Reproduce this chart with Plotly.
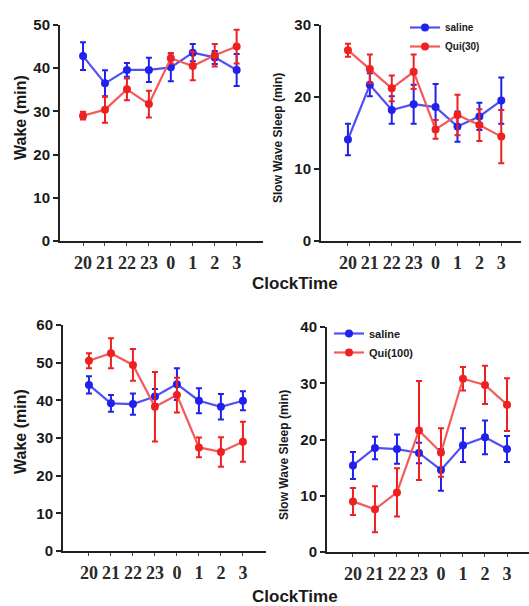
import plotly.graph_objects as go

# ---------------- data ----------------
clock_labels = ["20", "21", "22", "23", "0", "1", "2", "3"]
xpos = list(range(len(clock_labels)))

# top-left: Wake (min), saline vs Qui(30)
wake1_saline = [42.8, 36.5, 39.6, 39.6, 40.2, 43.6, 42.5, 39.6]
wake1_saline_err = [3.2, 3.0, 1.6, 2.8, 3.2, 2.0, 1.5, 3.7]
wake1_qui = [29.0, 30.4, 35.1, 31.7, 42.3, 40.5, 43.0, 45.0]
wake1_qui_err = [0.9, 3.0, 2.5, 3.1, 1.2, 3.3, 2.6, 3.9]

# top-right: Slow Wave Sleep (min)
sws1_saline = [14.1, 21.7, 18.2, 19.0, 18.6, 15.9, 17.3, 19.5]
sws1_saline_err = [2.2, 1.6, 1.9, 2.7, 3.2, 2.1, 1.9, 3.2]
sws1_qui = [26.5, 23.9, 21.2, 23.5, 15.5, 17.5, 16.1, 14.5]
sws1_qui_err = [0.9, 2.0, 1.8, 2.4, 1.3, 2.8, 2.2, 3.7]

# bottom-left: Wake (min), saline vs Qui(100)
wake2_saline = [44.1, 39.2, 39.0, 41.0, 44.3, 39.9, 38.3, 39.9]
wake2_saline_err = [2.3, 2.2, 2.8, 2.0, 4.2, 3.3, 3.4, 2.5]
wake2_qui = [50.5, 52.5, 49.4, 38.3, 41.4, 27.5, 26.3, 29.0]
wake2_qui_err = [2.0, 4.0, 4.2, 9.2, 4.6, 2.6, 3.9, 5.3]

# bottom-right: Slow Wave Sleep (min)
sws2_saline = [15.4, 18.5, 18.3, 17.6, 14.6, 19.0, 20.4, 18.3]
sws2_saline_err = [2.4, 2.0, 2.6, 1.8, 3.7, 3.0, 3.0, 2.3]
sws2_qui = [9.0, 7.6, 10.6, 21.6, 17.7, 30.8, 29.7, 26.2]
sws2_qui_err = [2.4, 4.1, 4.3, 8.8, 4.3, 2.1, 3.4, 4.7]

legend_names_top = ["saline", "Qui(30)"]
legend_names_bottom = ["saline", "Qui(100)"]

# ---------------- style ----------------
W, H = 529, 606
BLUE_M, BLUE_L = "#2121ee", "#5050f4"
RED_M, RED_L = "#ee2020", "#f45a5a"
FONT = "Arial"
TXT = "#1a1a1a"

fig = go.Figure()


def add_series(y, err, xa, ya, mcol, lcol, name, legend, show):
    fig.add_trace(go.Scatter(
        x=xpos, y=y, xaxis=xa, yaxis=ya, mode="lines+markers", name=name,
        legend=legend, showlegend=show,
        line=dict(color=lcol, width=2.2),
        marker=dict(color=mcol, size=8, symbol="circle"),
        error_y=dict(type="data", array=err, visible=True, color=mcol,
                     thickness=2, width=3),
    ))


add_series(wake1_saline, wake1_saline_err, "x", "y", BLUE_M, BLUE_L, legend_names_top[0], "legend", False)
add_series(wake1_qui, wake1_qui_err, "x", "y", RED_M, RED_L, legend_names_top[1], "legend", False)
add_series(sws1_saline, sws1_saline_err, "x2", "y2", BLUE_M, BLUE_L, legend_names_top[0], "legend", True)
add_series(sws1_qui, sws1_qui_err, "x2", "y2", RED_M, RED_L, legend_names_top[1], "legend", True)
add_series(wake2_saline, wake2_saline_err, "x3", "y3", BLUE_M, BLUE_L, legend_names_bottom[0], "legend2", False)
add_series(wake2_qui, wake2_qui_err, "x3", "y3", RED_M, RED_L, legend_names_bottom[1], "legend2", False)
add_series(sws2_saline, sws2_saline_err, "x4", "y4", BLUE_M, BLUE_L, legend_names_bottom[0], "legend2", True)
add_series(sws2_qui, sws2_qui_err, "x4", "y4", RED_M, RED_L, legend_names_bottom[1], "legend2", True)


def px_x(p):
    return p / W


def px_y(p):
    return 1 - p / H


xtickfont = dict(family="Liberation Serif", size=18, color="#2a2a2a", weight="bold")
ytickfont = dict(family=FONT, size=15, color=TXT, weight="bold")


def xaxis(x0, x1, rng, anchor):
    return dict(domain=[px_x(x0), px_x(x1)], range=rng, anchor=anchor,
                tickvals=xpos, ticktext=clock_labels, tickfont=xtickfont,
                showline=True, linecolor="#222", linewidth=2, ticks="outside",
                ticklen=3, tickwidth=1, tickcolor="#444", showgrid=False,
                zeroline=False, ticklabelstandoff=1, automargin=False)


def yaxis(y0, y1, rng, dt, anchor):
    return dict(domain=[px_y(y1), px_y(y0)], range=rng, anchor=anchor,
                dtick=dt, tickfont=ytickfont, showline=True, linecolor="#222",
                linewidth=2, ticks="outside", ticklen=5, tickwidth=2,
                tickcolor="#222", showgrid=False, zeroline=False, automargin=False)


fig.update_layout(
    width=W, height=H, margin=dict(l=0, r=0, t=0, b=0, pad=0, autoexpand=False),
    paper_bgcolor="white", plot_bgcolor="white",
    xaxis=xaxis(60, 263, [-1.05, 8.2], "y"),
    yaxis=yaxis(25, 241, [0, 50], 10, "x"),
    xaxis2=xaxis(321, 521, [-1.23, 7.9], "y2"),
    yaxis2=yaxis(25, 241, [0, 30], 10, "x2"),
    xaxis3=xaxis(63, 266, [-1.18, 8.05], "y3"),
    yaxis3=yaxis(325, 551, [0, 60], 10, "x3"),
    xaxis4=xaxis(327, 529, [-1.18, 8.0], "y4"),
    yaxis4=yaxis(327, 552, [0, 40], 10, "x4"),
    legend=dict(x=px_x(405), y=px_y(13), xanchor="left", yanchor="top",
                bgcolor="rgba(0,0,0,0)",
                font=dict(family=FONT, size=10, color=TXT, weight="bold"),
                tracegroupgap=0, itemwidth=30),
    legend2=dict(x=px_x(329), y=px_y(319), xanchor="left", yanchor="top",
                 bgcolor="rgba(0,0,0,0)",
                 font=dict(family=FONT, size=11, color=TXT, weight="bold"),
                 tracegroupgap=0, itemwidth=30),
)

title_font_big = dict(family=FONT, size=16, color=TXT, weight="bold")
title_font_small = dict(family=FONT, size=12, color=TXT, weight="bold")
ann = [
    dict(text="Wake (min)", x=px_x(20), y=px_y(118), font=title_font_big),
    dict(text="Slow Wave Sleep (min)", x=px_x(278), y=px_y(138), font=title_font_small),
    dict(text="Wake (min)", x=px_x(20), y=px_y(432), font=title_font_big),
    dict(text="Slow Wave Sleep (min)", x=px_x(284), y=px_y(455), font=title_font_small),
]
for a in ann:
    fig.add_annotation(xref="paper", yref="paper", showarrow=False, textangle=-90,
                       xanchor="center", yanchor="middle", **a)
for yy in (283, 596):
    fig.add_annotation(text="ClockTime", xref="paper", yref="paper", x=px_x(295), y=px_y(yy),
                       showarrow=False, xanchor="center", yanchor="middle",
                       font=dict(family=FONT, size=17, color=TXT, weight="bold"))

fig.write_html("out.html", config={"displayModeBar": False},
               post_script="document.body.style.margin='0';document.body.style.overflow='hidden';")
